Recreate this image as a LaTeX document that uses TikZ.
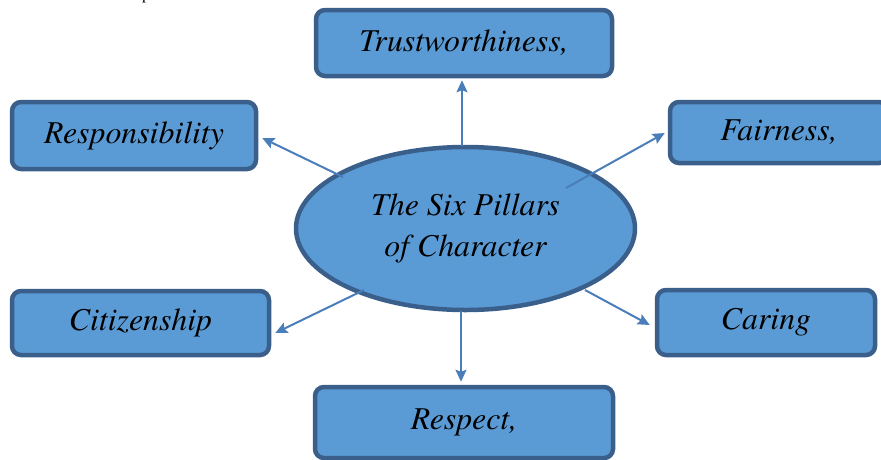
\documentclass[tikz,border=0pt]{standalone}
\usepackage{fontspec}
\setmainfont{texgyretermes}[Extension=.otf, UprightFont=*-regular, ItalicFont=*-italic, BoldFont=*-bold, BoldItalicFont=*-bolditalic]
\usetikzlibrary{shapes.geometric,arrows.meta,calc}
\definecolor{fillblue}{HTML}{5B9BD5}
\definecolor{edgeblue}{HTML}{3A5F8B}
\definecolor{arrowblue}{HTML}{4A7EBB}
\begin{document}
\begin{tikzpicture}[x=1pt,y=-1pt,
  pillar/.style={draw=edgeblue, fill=fillblue, line width=4.5pt, rounded corners=9pt,
    inner sep=0pt, font=\rmfamily\itshape\fontsize{31.8}{37}\selectfont, text=black},
  hub/.style={ellipse, draw=edgeblue, fill=fillblue, line width=4.5pt, inner sep=0pt,
    font=\rmfamily\itshape\fontsize{31.8}{41}\selectfont, text=black, align=center},
  conn/.style={draw=arrowblue, line width=2pt, -{Stealth[length=12pt,width=11pt,inset=2pt]}}]
\useasboundingbox (0,0) rectangle (881,459);
\clip (0,0) rectangle (881,459);
\node[font=\rmfamily\fontsize{16}{19}\selectfont, anchor=base] (pfrag) at (146,-1) {p};
\node[pillar, minimum width=296pt, minimum height=66pt] (trust) at (464,43) {Trustworthiness,};
\node[pillar, minimum width=244pt, minimum height=67pt] (resp) at (134,135.5) {Responsibility};
\node[pillar, minimum width=218pt, minimum height=61pt] (fair) at (779,132.5) {Fairness,};
\node[pillar, minimum width=257pt, minimum height=64pt] (citiz) at (140.5,323) {Citizenship};
\node[pillar, minimum width=218pt, minimum height=65pt] (caring) at (766,322.5) {Caring};
\node[pillar, minimum width=298pt, minimum height=71pt] (respect) at (464,422.5) {Respect,};
\node[hub, minimum width=339pt, minimum height=163pt] (hub) at (465.5,228.5) {The Six Pillars\\of Character};
\coordinate (s1) at (462,146);
\coordinate (s2) at (343,177);
\coordinate (s3) at (566,188);
\coordinate (s4) at (364,290);
\coordinate (s5) at (585,290);
\coordinate (s6) at (461,311);
\draw[conn, shorten >=2pt] (s1) -- (s1 |- trust.south);
\draw[conn] (s2) -- ($(resp.east)+(4,2.5)$);
\draw[conn] (s3) -- ($(fair.west)+(-3,0.5)$);
\draw[conn] (s4) -- ($(citiz.east)+(4,10)$);
\draw[conn] (s5) -- ($(caring.west)+(-5,2.5)$);
\draw[conn, shorten >=3pt] (s6) -- (s6 |- respect.north);
\end{tikzpicture}
\end{document}
